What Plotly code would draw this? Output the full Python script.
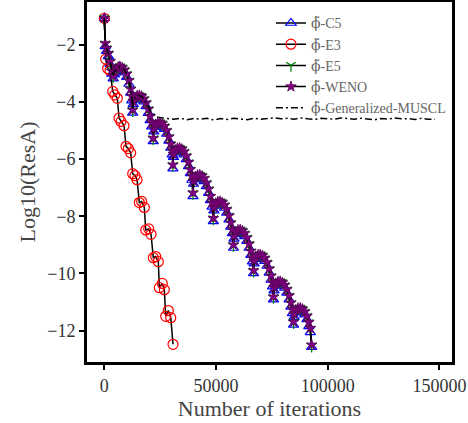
import plotly.graph_objects as go

# ---------------- data ----------------
x_ticks = [0, 50000, 100000, 150000]
x_tick_labels = ["0", "50000", "100000", "150000"]
y_ticks = [-2, -4, -6, -8, -10, -12]
y_tick_labels = ["−2", "−4", "−6", "−8", "−10", "−12"]

# common iteration grid for C5 / E5 / WENO
x_weno = [0, 400, 1000, 1800, 2600, 3300, 4000,
          4500, 5300, 6200, 7000, 8000, 9000, 10000, 11000, 11800, 12300,
          12700, 12950, 13700, 14700, 15700, 16700, 17700, 18700, 19700, 20500, 21200,
          21900, 22150, 22900, 23900, 24900, 25900, 26900, 27900, 28900, 29700, 30400,
          30700, 30950, 31700, 32700, 33700, 34700, 35700, 36700, 37700, 38500, 39200,
          39700, 39950, 40700, 41700, 42700, 43700, 44700, 45700, 46700, 47500, 48200,
          48800, 49050, 49800, 50800, 51800, 52800, 53800, 54800, 55800, 56600, 57300,
          57800, 58050, 58800, 59800, 60800, 61800, 62800, 63800, 64800, 65600, 66300,
          66800, 67050, 67800, 68800, 69800, 70800, 71800, 72800, 73800, 74600, 75300,
          75700, 75950, 76700, 77700, 78700, 79700, 80700, 81700, 82700, 83500, 84200,
          84700, 84950, 85700, 86700, 87700, 88700, 89700, 90700, 91500, 92200, 92800]

y_weno = [-1.07, -1.95, -2.12, -2.30, -2.58, -2.92, -3.10,
          -2.95, -2.84, -2.78, -2.76, -2.80, -2.88, -3.02, -3.25, -3.55, -3.80,
          -4.28, -3.99, -3.84, -3.78, -3.77, -3.80, -3.89, -4.03, -4.25, -4.50, -4.72,
          -5.27, -4.94, -4.79, -4.73, -4.72, -4.76, -4.85, -5.00, -5.22, -5.47, -5.70,
          -6.20, -5.83, -5.68, -5.62, -5.61, -5.65, -5.74, -5.89, -6.11, -6.36, -6.59,
          -7.18, -6.77, -6.62, -6.56, -6.55, -6.59, -6.68, -6.83, -7.05, -7.30, -7.53,
          -8.07, -7.70, -7.55, -7.49, -7.48, -7.52, -7.61, -7.76, -7.98, -8.23, -8.46,
          -9.00, -8.69, -8.54, -8.48, -8.47, -8.51, -8.60, -8.75, -8.97, -9.22, -9.45,
          -9.90, -9.56, -9.41, -9.35, -9.34, -9.38, -9.47, -9.62, -9.84, -10.09, -10.32,
          -10.82, -10.50, -10.35, -10.29, -10.28, -10.32, -10.41, -10.56, -10.78, -11.03, -11.26,
          -11.70, -11.43, -11.28, -11.22, -11.21, -11.25, -11.34, -11.49, -11.71, -11.92, -12.50]

y_c5 = [-1.07, -2.05, -2.22, -2.40, -2.68, -3.02, -3.18,
        -3.04, -2.92, -2.84, -2.81, -2.87, -2.97, -3.13, -3.37, -3.68, -3.95,
        -4.38, -4.08, -3.93, -3.85, -3.83, -3.88, -3.99, -4.15, -4.39, -4.64, -4.86,
        -5.38, -5.04, -4.88, -4.80, -4.78, -4.84, -4.95, -5.12, -5.36, -5.61, -5.84,
        -6.33, -5.93, -5.77, -5.69, -5.67, -5.73, -5.84, -6.01, -6.25, -6.50, -6.73,
        -7.30, -6.87, -6.71, -6.63, -6.61, -6.67, -6.78, -6.95, -7.19, -7.44, -7.67,
        -8.18, -7.80, -7.64, -7.56, -7.54, -7.60, -7.71, -7.88, -8.12, -8.37, -8.60,
        -9.11, -8.79, -8.63, -8.55, -8.53, -8.59, -8.70, -8.87, -9.11, -9.36, -9.59,
        -10.00, -9.66, -9.50, -9.42, -9.40, -9.46, -9.57, -9.74, -9.98, -10.23, -10.46,
        -10.92, -10.60, -10.44, -10.36, -10.34, -10.40, -10.51, -10.68, -10.92, -11.17, -11.40,
        -11.80, -11.53, -11.37, -11.29, -11.27, -11.33, -11.44, -11.61, -11.85, -12.06, -12.58]

y_e5 = [-1.07, -1.97, -2.14, -2.32, -2.60, -2.94, -3.11,
        -2.96, -2.86, -2.79, -2.77, -2.81, -2.90, -3.04, -3.27, -3.57, -3.83,
        -4.30, -4.01, -3.86, -3.79, -3.78, -3.81, -3.91, -4.05, -4.27, -4.53, -4.75,
        -5.29, -4.96, -4.81, -4.74, -4.73, -4.77, -4.87, -5.02, -5.24, -5.50, -5.73,
        -6.22, -5.85, -5.70, -5.63, -5.62, -5.66, -5.76, -5.91, -6.13, -6.39, -6.62,
        -7.20, -6.79, -6.64, -6.57, -6.56, -6.60, -6.70, -6.85, -7.07, -7.33, -7.56,
        -8.09, -7.72, -7.57, -7.50, -7.49, -7.53, -7.63, -7.78, -8.00, -8.26, -8.49,
        -9.02, -8.71, -8.56, -8.49, -8.48, -8.52, -8.62, -8.77, -8.99, -9.25, -9.48,
        -9.92, -9.58, -9.43, -9.36, -9.35, -9.39, -9.49, -9.64, -9.86, -10.12, -10.35,
        -10.84, -10.52, -10.37, -10.30, -10.29, -10.33, -10.43, -10.58, -10.80, -11.06, -11.29,
        -11.72, -11.45, -11.30, -11.23, -11.22, -11.26, -11.36, -11.51, -11.73, -11.95, -12.54]

x_e3 = [0, 600, 1500, 2550, 3760, 4650, 5820, 6580, 7470, 8820, 9710, 10750,
        11800, 12700, 13740, 14640, 15670, 16730, 17900, 18530, 19870, 20900,
        21930, 23000, 24170, 24620, 25960, 26860, 27480, 28650, 29730, 30750]
y_e3 = [-1.07, -2.50, -2.83, -2.90, -3.63, -3.75, -3.87, -4.56, -4.68, -4.83,
        -5.55, -5.63, -5.78, -6.51, -6.58, -6.72, -7.52, -7.48, -7.69, -8.48,
        -8.44, -8.63, -9.45, -9.41, -9.59, -10.50, -10.35, -10.57, -11.50,
        -11.30, -11.55, -12.48]

x_muscl = [0, 400, 1000, 1800, 2600, 3300, 4000, 4500, 5300, 6200, 7000, 8000,
           9000, 10000, 11000, 11800, 12300, 12700, 12950, 13700, 14700, 15700,
           16700, 17700, 18700, 19700, 20500, 21500, 22700, 24000, 26000, 28000,
           31000, 34000, 37000, 40000, 43000, 46000, 49000, 52000, 55000, 58000,
           61000, 64000, 67000, 70000, 73000, 76000, 79000, 82000, 85000, 88000,
           91000, 94000, 97000, 100000, 103000, 106000, 109000, 112000, 115000,
           118000, 121000, 124000, 127000, 130000, 133000, 136000, 139000, 142000,
           145000, 148000]
y_muscl = [-1.07, -1.95, -2.12, -2.30, -2.58, -2.92, -3.10, -2.95, -2.84, -2.78,
           -2.76, -2.80, -2.88, -3.02, -3.25, -3.55, -3.80, -4.28, -3.99, -3.84,
           -3.78, -3.77, -3.80, -3.89, -4.03, -4.20, -4.28, -4.38, -4.47, -4.53,
           -4.56, -4.58, -4.60, -4.57, -4.62, -4.58, -4.60, -4.57, -4.63, -4.58,
           -4.61, -4.57, -4.60, -4.62, -4.57, -4.60, -4.58, -4.55, -4.59, -4.57,
           -4.60, -4.56, -4.59, -4.61, -4.57, -4.58, -4.60, -4.56, -4.58, -4.60,
           -4.57, -4.59, -4.62, -4.58, -4.60, -4.56, -4.59, -4.58, -4.61, -4.57,
           -4.60, -4.60]

PHI = '<span style="font-family:DejaVu Serif">ϕ̃</span>'
labels = [PHI + "-C5", PHI + "-E3", PHI + "-E5", PHI + "-WENO",
          PHI + "-Generalized-MUSCL"]

# ---------------- figure ----------------
FONT = "Liberation Serif"
fig = go.Figure()

fig.add_trace(go.Scatter(
    x=x_weno, y=y_c5, name=labels[0], mode="lines+markers",
    line=dict(color="black", width=1.5),
    marker=dict(symbol="triangle-up-open", size=9, color="blue",
                line=dict(width=1.2, color="blue"))))

fig.add_trace(go.Scatter(
    x=x_e3, y=y_e3, name=labels[1], mode="lines+markers",
    line=dict(color="black", width=1.5),
    marker=dict(symbol="circle-open", size=10, color="red",
                line=dict(width=1.2, color="red"))))

fig.add_trace(go.Scatter(
    x=x_weno, y=y_e5, name=labels[2], mode="lines+markers",
    line=dict(color="black", width=1.5),
    marker=dict(symbol="y-down-open", size=8, color="green",
                line=dict(width=1.3, color="green"))))

fig.add_trace(go.Scatter(
    x=x_weno, y=y_weno, name=labels[3], mode="lines+markers",
    line=dict(color="black", width=1.5),
    marker=dict(symbol="star", size=8, color="purple",
                line=dict(width=0.8, color="#5a005a"))))

fig.add_trace(go.Scatter(
    x=x_muscl, y=y_muscl, name=labels[4], mode="lines",
    line=dict(color="black", width=1.5, dash="7px,3px,2px,3px")))

axis_common = dict(
    showline=True, mirror=True, linewidth=3, linecolor="black",
    ticks="outside", ticklen=5, tickwidth=1.5, tickcolor="black",
    showgrid=False, zeroline=False, automargin=False,
    tickfont=dict(family=FONT, size=18, color="#333333"),
)

fig.update_layout(
    width=468, height=423,
    margin=dict(l=87, r=16, t=2, b=61),
    paper_bgcolor="white", plot_bgcolor="white",
    font=dict(family=FONT, color="#333333"),
    xaxis=dict(range=[-7750, 155600], tickmode="array",
               tickvals=x_ticks, ticktext=x_tick_labels,
               title=dict(text="Number of iterations",
                          font=dict(family=FONT, size=22, color="#444444"),
                          standoff=2),
               **axis_common),
    yaxis=dict(range=[-13.1, -0.5], tickmode="array",
               tickvals=y_ticks, ticktext=y_tick_labels,
               title=dict(text="Log10(ResA)",
                          font=dict(family=FONT, size=22, color="#444444"),
                          standoff=6),
               **axis_common),
    legend=dict(x=0.504, y=0.985, xanchor="left", yanchor="top",
                bgcolor="rgba(0,0,0,0)", borderwidth=0,
                font=dict(family=FONT, size=14, color="#666666"),
                itemwidth=30),
    showlegend=True,
)

fig.write_html("out.html", config={"displayModeBar": False},
               post_script="document.body.style.margin='0';document.body.style.overflow='hidden';")
